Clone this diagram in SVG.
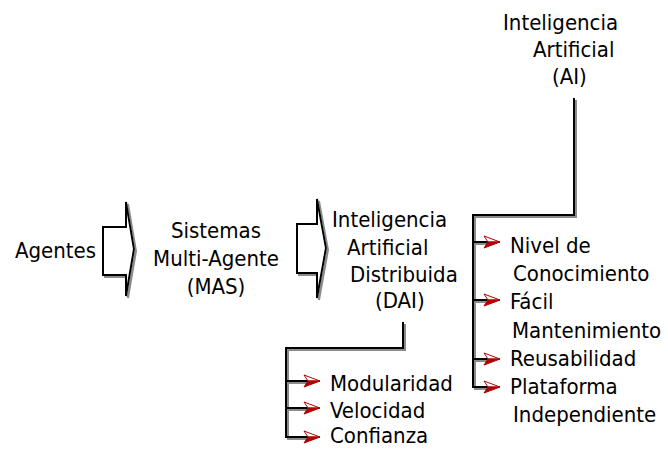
<svg xmlns="http://www.w3.org/2000/svg" xmlns:xlink="http://www.w3.org/1999/xlink" width="668" height="449" viewBox="0 0 668 449">
<style>
text{font-family:"DejaVu Sans Condensed","DejaVu Sans",sans-serif;font-size:22px;fill:#000}
.c{text-anchor:middle}
.ln{fill:none;stroke:#000;stroke-width:2}
.blk{fill:#fff;stroke:#000;stroke-width:2;stroke-linejoin:miter}
</style>
<defs>
<filter id="sh" x="-20%" y="-20%" width="140%" height="140%">
<feDropShadow dx="2" dy="2" stdDeviation="0" flood-color="#8c8c8c" flood-opacity="1"/>
</filter>
<g id="ah">
<path d="M-16,-6 L0,0 L-12,0 Z" fill="#fff" stroke="#b00000" stroke-width="1"/>
<path d="M-12,0 L0,0 L-16,6 Z" fill="#b00000" stroke="#b00000" stroke-width="1"/>
</g>
</defs>
<rect width="668" height="449" fill="#fff"/>

<g id="connectors">
<g filter="url(#sh)">
<path class="blk" d="M103,227 H126 V202 L134,249 L126,296 V275 H103 Z"/>
<path class="blk" d="M297,224 H317 V199 L326,248 L317,298 V273 H297 Z"/>
<path class="ln" d="M574,98 V215 H473 V387 H489"/>
<path class="ln" d="M473,242 H489 M473,300 H489 M473,359 H489"/>
<path class="ln" d="M403,322 V348 H286 V437 H309"/>
<path class="ln" d="M286,381 H309 M286,408 H309"/>
</g>
<use xlink:href="#ah" href="#ah" x="500" y="242"/>
<use xlink:href="#ah" href="#ah" x="500" y="300"/>
<use xlink:href="#ah" href="#ah" x="500" y="359"/>
<use xlink:href="#ah" href="#ah" x="500" y="387"/>
<use xlink:href="#ah" href="#ah" x="320" y="381"/>
<use xlink:href="#ah" href="#ah" x="320" y="408"/>
<use xlink:href="#ah" href="#ah" x="320" y="437"/>
</g>

<g id="node-agentes"><text x="15" y="258">Agentes</text></g>
<g id="node-mas">
<text class="c" x="216" y="238">Sistemas</text>
<text class="c" x="216" y="266">Multi-Agente</text>
<text class="c" x="216" y="294">(MAS)</text>
</g>
<g id="node-dai">
<text x="332" y="227">Inteligencia</text>
<text x="347" y="255">Artificial</text>
<text x="350" y="282">Distribuida</text>
<text x="375" y="308">(DAI)</text>
</g>
<g id="node-ai">
<text x="503" y="30">Inteligencia</text>
<text x="533" y="57">Artificial</text>
<text x="552" y="84">(AI)</text>
</g>
<g id="node-dai-props">
<text x="330" y="391">Modularidad</text>
<text x="330" y="418">Velocidad</text>
<text x="330" y="443">Confianza</text>
</g>
<g id="node-ai-props">
<text x="510" y="253">Nivel de</text>
<text x="513" y="281">Conocimiento</text>
<text x="510" y="309">Fácil</text>
<text x="512" y="338">Mantenimiento</text>
<text x="510" y="366">Reusabilidad</text>
<text x="510" y="394">Plataforma</text>
<text x="513" y="422">Independiente</text>
</g>
</svg>
